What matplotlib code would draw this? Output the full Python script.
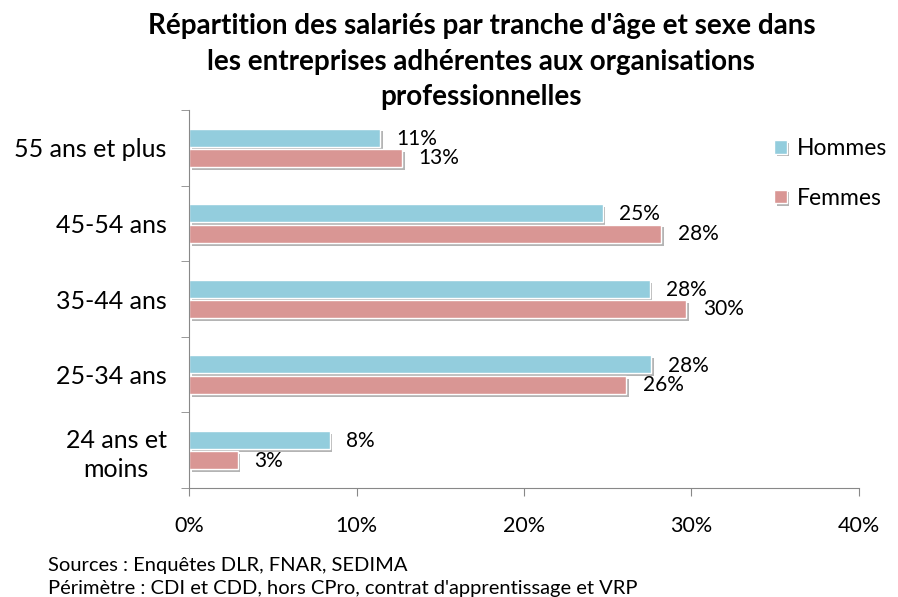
import matplotlib
matplotlib.use("Agg")
import matplotlib.pyplot as plt
import matplotlib.patheffects as pe
import numpy as np

categories = ["55 ans et plus", "45-54 ans", "35-44 ans", "25-34 ans", "24 ans et\nmoins"]
hommes = [11.4, 24.7, 27.5, 27.6, 8.4]
femmes = [12.7, 28.2, 29.7, 26.1, 2.9]
hommes_lbl = ["11%", "25%", "28%", "28%", "8%"]
femmes_lbl = ["13%", "28%", "30%", "26%", "3%"]
xticks = [0, 10, 20, 30, 40]

c_h = "#93CDDD"
c_f = "#D99694"

plt.rcParams["font.family"] = ["Lato", "DejaVu Sans"]

fig = plt.figure(figsize=(8.98, 5.97), dpi=100)
ax = fig.add_axes([0.2105, 0.1826, 0.746, 0.633])

y = np.arange(len(categories))
h = 0.24
shadow = [pe.SimplePatchShadow(offset=(2, -2), shadow_rgbFace="#777777", alpha=0.55), pe.Normal()]

bh = ax.barh(y - h / 2 - 0.015, hommes, height=h, color=c_h, edgecolor="white", linewidth=1, label="Hommes")
bf = ax.barh(y + h / 2 + 0.015, femmes, height=h, color=c_f, edgecolor="white", linewidth=1, label="Femmes")
for b in list(bh) + list(bf):
    b.set_path_effects(shadow)

for yi, v, t in zip(y, hommes, hommes_lbl):
    ax.annotate(t, (v, yi - h / 2), xytext=(12, 0), textcoords="offset points",
                va="center", ha="left", fontsize=15)
for yi, v, t in zip(y, femmes, femmes_lbl):
    ax.annotate(t, (v, yi + h / 2), xytext=(12, -1), textcoords="offset points",
                va="center", ha="left", fontsize=15)

ax.set_xlim(0, 40)
ax.set_ylim(len(categories) - 0.5, -0.5)
ax.set_xticks(xticks)
ax.set_xticklabels([f"{x}%" for x in xticks], fontsize=15.5)
ax.set_yticks(y)
ax.set_yticklabels(categories, fontsize=18, multialignment="center", linespacing=1.3)
ax.tick_params(axis="y", length=0, pad=16)
ax.tick_params(axis="x", length=6, color="#888888", pad=14)
ax.set_yticks(np.arange(-0.5, len(categories)), minor=True)
ax.tick_params(axis="y", which="minor", length=6, color="#888888")
for s in ["top", "right"]:
    ax.spines[s].set_visible(False)
for s in ["left", "bottom"]:
    ax.spines[s].set_color("#888888")

fig.legend(handles=[bh, bf], loc="upper left", bbox_to_anchor=(0.862, 0.769),
           frameon=False, fontsize=16.5, handlelength=0.55, handleheight=0.55,
           handletextpad=0.45, labelspacing=1.25, borderpad=0, borderaxespad=0)

fig.text(0.536, 0.978, "Répartition des salariés par tranche d'âge et sexe dans\n"
         "les entreprises adhérentes aux organisations\nprofessionnelles",
         ha="center", va="top", fontsize=20, fontweight="bold", linespacing=1.45)

fig.text(0.053, 0.053, "Sources : Enquêtes DLR, FNAR, SEDIMA", fontsize=14.5, va="center")
fig.text(0.053, 0.014, "Périmètre : CDI et CDD, hors CPro, contrat d'apprentissage et VRP",
         fontsize=14.5, va="center")

fig.savefig("out.png", dpi=100)
